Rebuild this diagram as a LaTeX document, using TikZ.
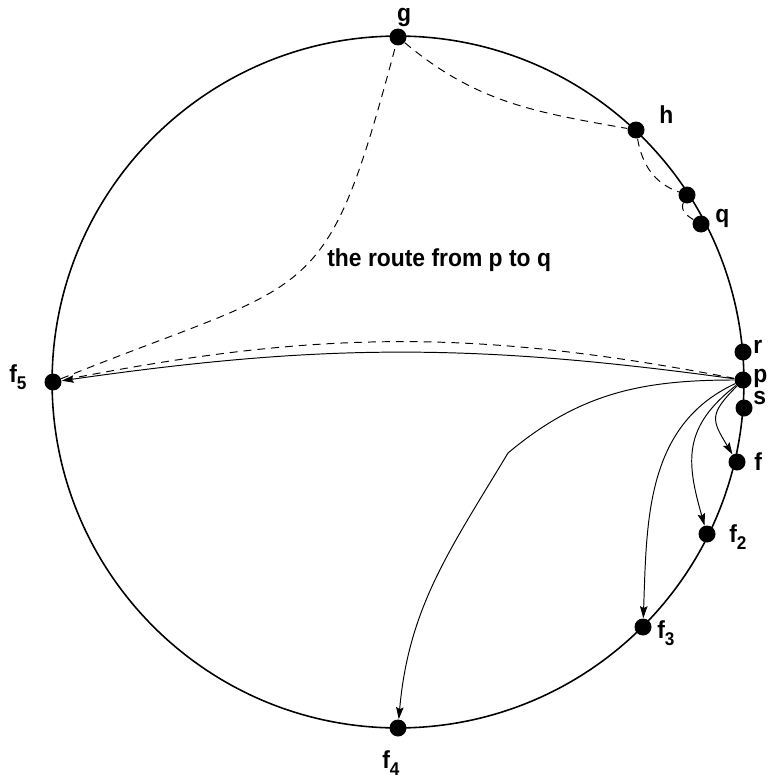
\documentclass[tikz,border=0pt]{standalone}
\usepackage{fontspec}
\newfontfamily\figfont[FakeStretch=0.93]{Liberation Sans}
\usetikzlibrary{arrows.meta}
\newcommand\lsub[1]{\raisebox{-4.5pt}{\fontsize{10.5}{11}\selectfont #1}}
\tikzset{
  vtx/.style={circle,fill=black,inner sep=0pt,minimum size=0.34cm},
  lbl/.style={inner sep=0pt,anchor=base west,
              font=\figfont\fontsize{14}{16}\selectfont\bfseries},
  ring/.style={line width=0.9pt},
  finger/.style={-{Stealth[length=2.4mm,width=1.5mm,inset=0.4mm]},
                 line width=0.55pt},
  route/.style={dash pattern=on 4.5pt off 3.4pt,line width=0.55pt}
}
\begin{document}
\begin{tikzpicture}[x=0.02cm,y=0.02cm]
    \path[use as bounding box] (0,0) rectangle (769,-781);
    \draw[ring] (398,-382) circle [radius=6.92cm];

    % points on the ring
    \node[vtx] (g)  at (398,-37) {};
    \node[vtx] (h)  at (636,-130) {};
    \node[vtx] (m)  at (687,-195) {};
    \node[vtx] (q)  at (701,-224) {};
    \node[vtx] (r)  at (743,-352) {};
    \node[vtx] (p)  at (743,-380) {};
    \node[vtx] (s)  at (744,-408) {};
    \node[vtx] (f1) at (737,-462) {};
    \node[vtx] (f2) at (707,-534) {};
    \node[vtx] (f3) at (643,-627) {};
    \node[vtx] (f4) at (398,-728) {};
    \node[vtx] (f5) at (53,-382) {};

    \node[lbl,anchor=base] (lg) at (404,-21) {g};
    \node[lbl] (lh)  at (659,-123) {h};
    \node[lbl] (lq)  at (715,-222) {q};
    \node[lbl] (lr)  at (753,-353) {r};
    \node[lbl] (lp)  at (753,-382) {p};
    \node[lbl] (ls)  at (753,-404) {s};
    \node[lbl] (lf1) at (754,-470) {f};
    \node[lbl] (lf2) at (729,-542) {f\lsub{2}};
    \node[lbl] (lf3) at (657,-638) {f\lsub{3}};
    \node[lbl] (lf4) at (382,-768) {f\lsub{4}};
    \node[lbl] (lf5) at (9,-382) {f\lsub{5}};
    \node[lbl] (routetxt) at (327,-266) {the route from p to q};

    % fingers out of p
    \draw[finger] (p) to[bend right=8] (f5);
    \draw[finger] (p) to[out=180,in=40] (508,-453)
                      to[out=239,in=85] (f4);
    \draw[finger] (p) to[out=205,in=88] (f3);
    \draw[finger] (p) to[out=218,in=106,looseness=1.2] (f2);
    \draw[finger] (p) to[out=225,in=121,looseness=1.5] (f1);

    % the route
    \draw[route] (p) to[bend right=11] (f5);
    \draw[route] (f5) to[out=22,in=255,looseness=1.5] (g);
    \draw[route] (g) to[out=-40,in=170] (h);
    \draw[route] (h) to[out=-80,in=160] (m);
    \draw[route] (m) to[out=245,in=150] (q);
  \end{tikzpicture}
\end{document}
